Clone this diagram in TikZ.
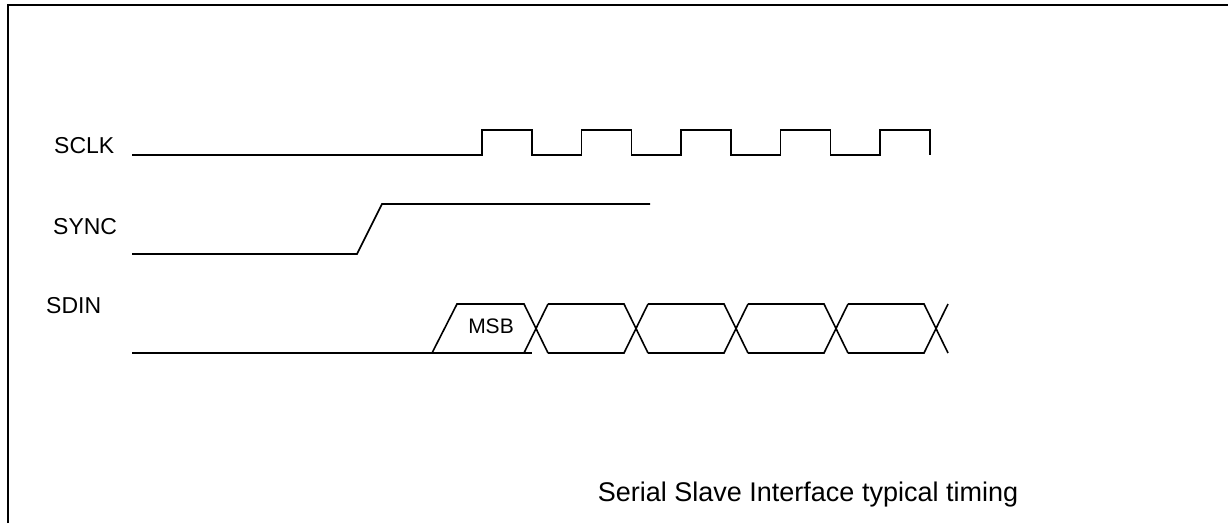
\documentclass[tikz,border=0pt]{standalone}
\usepackage{fontspec}
\setmainfont{Liberation Sans}
\usetikzlibrary{positioning}

\tikzset{
  wave/.style={line width=1.6pt, line join=miter},
  siglabel/.style={anchor=west, inner sep=0pt, font=\fontsize{23}{26}\selectfont},
  frame/.style={line width=2.5pt},
}

\begin{document}
\begin{tikzpicture}[x=1pt, y=-1pt]

    \useasboundingbox (0,0) rectangle (1228,523);

    % Frame
    \draw[frame] (8,523) -- (8,5) -- (1228,5);

    % Define nodes
    \node[siglabel]                 (sclk)  at (54,146) {SCLK};
    \node[siglabel]                 (sync)  at (53,227) {SYNC};
    \node[siglabel]                 (sdin)  at (46,306) {SDIN};
    \node[inner sep=0pt, font=\fontsize{21}{24}\selectfont] (msb) at (491,326) {MSB};
    \node[inner sep=0pt, font=\fontsize{27}{31}\selectfont] (title) at (808,495) {Serial Slave Interface typical timing};

    % SCLK
    \draw[wave] (132,155)
      \foreach \t in {482,581.5,681,780.5,880} {
        -- (\t,155) -- (\t,130) -- (\t+50,130) -- (\t+50,155)
      };

    % SYNC
    \draw[wave] (132,254) -- (357,254) -- (382,204) -- (650,204);

    % SDIN
    \draw[wave] (132,353) -- (532,353);
    \draw[wave] (432,353) -- (457,304) -- (524,304) -- (548,353);
    \draw[wave] (524,353) -- (548,304);
    \foreach \a/\b in {536/636,636/736,736/836,836/936} {
      \draw[wave] (\a+12,304) -- (\b-12,304) -- (\b+12,353);
      \draw[wave] (\a+12,353) -- (\b-12,353) -- (\b+12,304);
    }

\end{tikzpicture}
\end{document}
